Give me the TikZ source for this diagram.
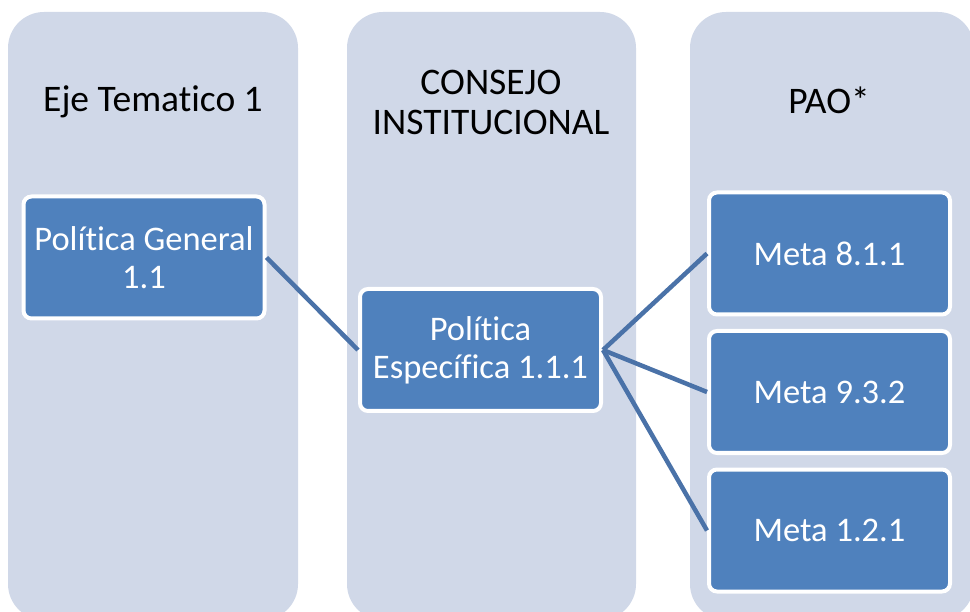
\documentclass[tikz,border=0pt]{standalone}
\usepackage{fontspec}
\setmainfont{Carlito}[Ligatures={NoCommon,NoRare,NoContextual}]
\definecolor{colfill}{HTML}{D0D8E8}
\definecolor{boxfill}{HTML}{4F81BD}
\definecolor{edgecol}{HTML}{4A72A8}
\begin{document}
\begin{tikzpicture}[x=1pt, y=-1pt,
    column/.style={fill=colfill, rounded corners=36pt},
    title/.style={font=\fontsize{37.5}{40}\selectfont, align=center, text=black},
    box/.style={draw=white, line width=4pt, fill=boxfill, rounded corners=8pt,
        minimum width=241pt, minimum height=122pt, align=center, text=white,
        font=\fontsize{34.5}{38}\selectfont},
    edge/.style={draw=edgecol, line width=4.5pt}]

    \useasboundingbox (0,0) rectangle (970,612);

    % Columns
    \fill[column] (8,12) rectangle (298,620);
    \fill[column] (347,12) rectangle (636,620);
    \fill[column] (690,12) rectangle (974,620);

    % Titles
    \node (eje) at (153,102) [title] {Eje Tematico 1};
    \node (consejo) at (491,102) [title] {CONSEJO\\INSTITUCIONAL};
    \node (pao) at (829,100) [title] {PAO*};

    % Nodes
    \node (general) at (144,257.5) [box] {Política General\\1.1};
    \node (especifica) at (480.5,350) [box] {Política\\Específica 1.1.1};
    \node (meta1) at (829.5,253.5) [box] {Meta 8.1.1};
    \node (meta2) at (829.5,392) [box] {Meta 9.3.2};
    \node (meta3) at (829.5,530.5) [box] {Meta 1.2.1};

    % Edges
    \draw[edge] (general.east) -- (especifica.west);
    \draw[edge] (especifica.east) -- (meta1.west);
    \draw[edge] (especifica.east) -- (meta2.west);
    \draw[edge] (especifica.east) -- (meta3.west);

\end{tikzpicture}
\end{document}
